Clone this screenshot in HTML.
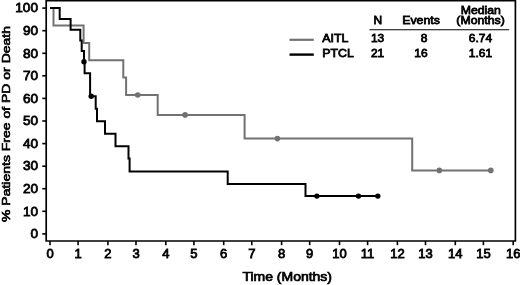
<!DOCTYPE html>
<html><head><meta charset="utf-8"><title>PFS</title>
<style>
html,body{margin:0;padding:0;background:#fff;}
svg{display:block}
text{font-family:"Liberation Sans",Arial,Helvetica,sans-serif;fill:#000;}
</style></head><body>
<svg width="520" height="285" viewBox="0 0 520 285">
<rect width="520" height="285" fill="#fff"/>

<g stroke="#000" fill="none" stroke-width="1.6">
<path d="M46.2,0.6 L515.4,0.6 L515.4,241.0 L46.2,241.0 Z" stroke-width="1.7"/>
<path d="M42.3,233.9 H46.2"/>
<path d="M42.3,211.3 H46.2"/>
<path d="M42.3,188.7 H46.2"/>
<path d="M42.3,166.2 H46.2"/>
<path d="M42.3,143.6 H46.2"/>
<path d="M42.3,121.0 H46.2"/>
<path d="M42.3,98.4 H46.2"/>
<path d="M42.3,75.8 H46.2"/>
<path d="M42.3,53.3 H46.2"/>
<path d="M42.3,30.7 H46.2"/>
<path d="M42.3,8.1 H46.2"/>
<path d="M50.0,241 V245.2"/>
<path d="M78.1,241 V245.2"/>
<path d="M107.9,241 V245.2"/>
<path d="M136.0,241 V245.2"/>
<path d="M165.8,241 V245.2"/>
<path d="M193.9,241 V245.2"/>
<path d="M223.7,241 V245.2"/>
<path d="M251.8,241 V245.2"/>
<path d="M281.6,241 V245.2"/>
<path d="M309.7,241 V245.2"/>
<path d="M339.5,241 V245.2"/>
<path d="M367.6,241 V245.2"/>
<path d="M397.4,241 V245.2"/>
<path d="M425.5,241 V245.2"/>
<path d="M455.3,241 V245.2"/>
<path d="M483.4,241 V245.2"/>
<path d="M513.2,241 V245.2"/>
</g>
<g stroke="#000" stroke-width="0.8">
<text font-size="13.6" text-anchor="end" transform="translate(38.0,238.1)">0</text>
<text font-size="13.6" text-anchor="end" transform="translate(38.0,215.5)">10</text>
<text font-size="13.6" text-anchor="end" transform="translate(38.0,192.9)">20</text>
<text font-size="13.6" text-anchor="end" transform="translate(38.0,170.4)">30</text>
<text font-size="13.6" text-anchor="end" transform="translate(38.0,147.8)">40</text>
<text font-size="13.6" text-anchor="end" transform="translate(38.0,125.2)">50</text>
<text font-size="13.6" text-anchor="end" transform="translate(38.0,102.6)">60</text>
<text font-size="13.6" text-anchor="end" transform="translate(38.0,80.0)">70</text>
<text font-size="13.6" text-anchor="end" transform="translate(38.0,57.5)">80</text>
<text font-size="13.6" text-anchor="end" transform="translate(38.0,34.9)">90</text>
<text font-size="13.6" text-anchor="end" transform="translate(38.0,12.3)">100</text>
<text font-size="13" text-anchor="middle" transform="translate(50.0,258.1)">0</text>
<text font-size="13" text-anchor="middle" transform="translate(78.1,258.1)">1</text>
<text font-size="13" text-anchor="middle" transform="translate(107.9,258.1)">2</text>
<text font-size="13" text-anchor="middle" transform="translate(136.0,258.1)">3</text>
<text font-size="13" text-anchor="middle" transform="translate(165.8,258.1)">4</text>
<text font-size="13" text-anchor="middle" transform="translate(193.9,258.1)">5</text>
<text font-size="13" text-anchor="middle" transform="translate(223.7,258.1)">6</text>
<text font-size="13" text-anchor="middle" transform="translate(251.8,258.1)">7</text>
<text font-size="13" text-anchor="middle" transform="translate(281.6,258.1)">8</text>
<text font-size="13" text-anchor="middle" transform="translate(309.7,258.1)">9</text>
<text font-size="13" text-anchor="middle" transform="translate(339.5,258.1)">10</text>
<text font-size="13" text-anchor="middle" transform="translate(367.6,258.1)">11</text>
<text font-size="13" text-anchor="middle" transform="translate(397.4,258.1)">12</text>
<text font-size="13" text-anchor="middle" transform="translate(425.5,258.1)">13</text>
<text font-size="13" text-anchor="middle" transform="translate(455.3,258.1)">14</text>
<text font-size="13" text-anchor="middle" transform="translate(483.4,258.1)">15</text>
<text font-size="13" text-anchor="middle" transform="translate(513.2,258.1)">16</text>
<text font-size="14" text-anchor="middle" transform="translate(287.2,281.4) scale(1,0.9)">Time (Months)</text>
<text font-size="14" text-anchor="middle" transform="translate(10.2,124) rotate(-90) scale(1,0.78)">% Patients Free of PD or Death</text>
<text font-size="12.4" text-anchor="start" transform="translate(322.3,42.2) scale(1,0.94)">AITL</text>
<text font-size="12.4" text-anchor="start" transform="translate(322.3,57.4) scale(1,0.94)">PTCL</text>
<text font-size="12" text-anchor="middle" transform="translate(377.8,24.4) scale(1,0.94)">N</text>
<text font-size="12" text-anchor="middle" transform="translate(377.6,42.2) scale(1,0.94)">13</text>
<text font-size="12" text-anchor="middle" transform="translate(377.6,57.4) scale(1,0.94)">21</text>
<text font-size="12.3" text-anchor="middle" transform="translate(421.0,24.4) scale(1,0.94)">Events</text>
<text font-size="12" text-anchor="middle" transform="translate(424.0,42.2) scale(1,0.94)">8</text>
<text font-size="12" text-anchor="middle" transform="translate(421.0,57.4) scale(1,0.94)">16</text>
<text font-size="12.3" text-anchor="middle" transform="translate(480.8,13.5) scale(1,0.94)">Median</text>
<text font-size="12.3" text-anchor="middle" transform="translate(480.6,24.3) scale(1,0.94)">(Months)</text>
<text font-size="12" text-anchor="middle" transform="translate(480.5,42.2) scale(1,0.94)">6.74</text>
<text font-size="12" text-anchor="middle" transform="translate(480.5,57.4) scale(1,0.94)">1.61</text>
</g>
<path d="M50.0,8.1 L53.5,8.1 L53.5,25.6 L83.6,25.6 L83.6,42.9 L89.2,42.9 L89.2,60.2 L123.3,60.2 L123.3,77.5 L126.1,77.5 L126.1,95.0 L157.7,95.0 L157.7,114.9 L244.6,114.9 L244.6,138.6 L412.2,138.6 L412.2,170.4 L491.0,170.4" fill="none" stroke="#727272" stroke-width="2"/>
<circle cx="137.7" cy="95.0" r="2.8" fill="#727272"/>
<circle cx="185.1" cy="114.9" r="2.8" fill="#727272"/>
<circle cx="277.4" cy="138.6" r="2.8" fill="#727272"/>
<circle cx="439.3" cy="170.4" r="2.8" fill="#727272"/>
<circle cx="490.8" cy="170.4" r="2.8" fill="#727272"/>
<path d="M50.0,8.1 L59.7,8.1 L59.7,18.9 L70.6,18.9 L70.6,29.7 L80.3,29.7 L80.3,40.5 L81.7,40.5 L81.7,51.0 L84.0,51.0 L84.0,61.9 L84.6,61.9 L84.6,73.2 L90.1,73.2 L90.1,84.8 L90.1,84.8 L90.1,96.3 L95.7,96.3 L95.7,108.8 L97.0,108.8 L97.0,121.3 L105.0,121.3 L105.0,133.8 L115.5,133.8 L115.5,146.2 L128.5,146.2 L128.5,158.6 L129.6,158.6 L129.6,171.4 L227.7,171.4 L227.7,183.9 L305.5,183.9 L305.5,196.1 L378.0,196.1" fill="none" stroke="#000" stroke-width="2"/>
<circle cx="84.0" cy="61.8" r="2.7" fill="#000"/>
<circle cx="91.2" cy="96.3" r="2.7" fill="#000"/>
<circle cx="316.9" cy="196.1" r="2.7" fill="#000"/>
<circle cx="358.5" cy="196.1" r="2.7" fill="#000"/>
<circle cx="377.8" cy="196.1" r="2.7" fill="#000"/>
<path d="M289.5,39.8 H313.8" stroke="#727272" stroke-width="2.2"/>
<path d="M289.5,54.6 H313.8" stroke="#000" stroke-width="2.4"/>
<path d="M369.5,29.8 H509.2" stroke="#000" stroke-width="1.1"/>
</svg></body></html>
